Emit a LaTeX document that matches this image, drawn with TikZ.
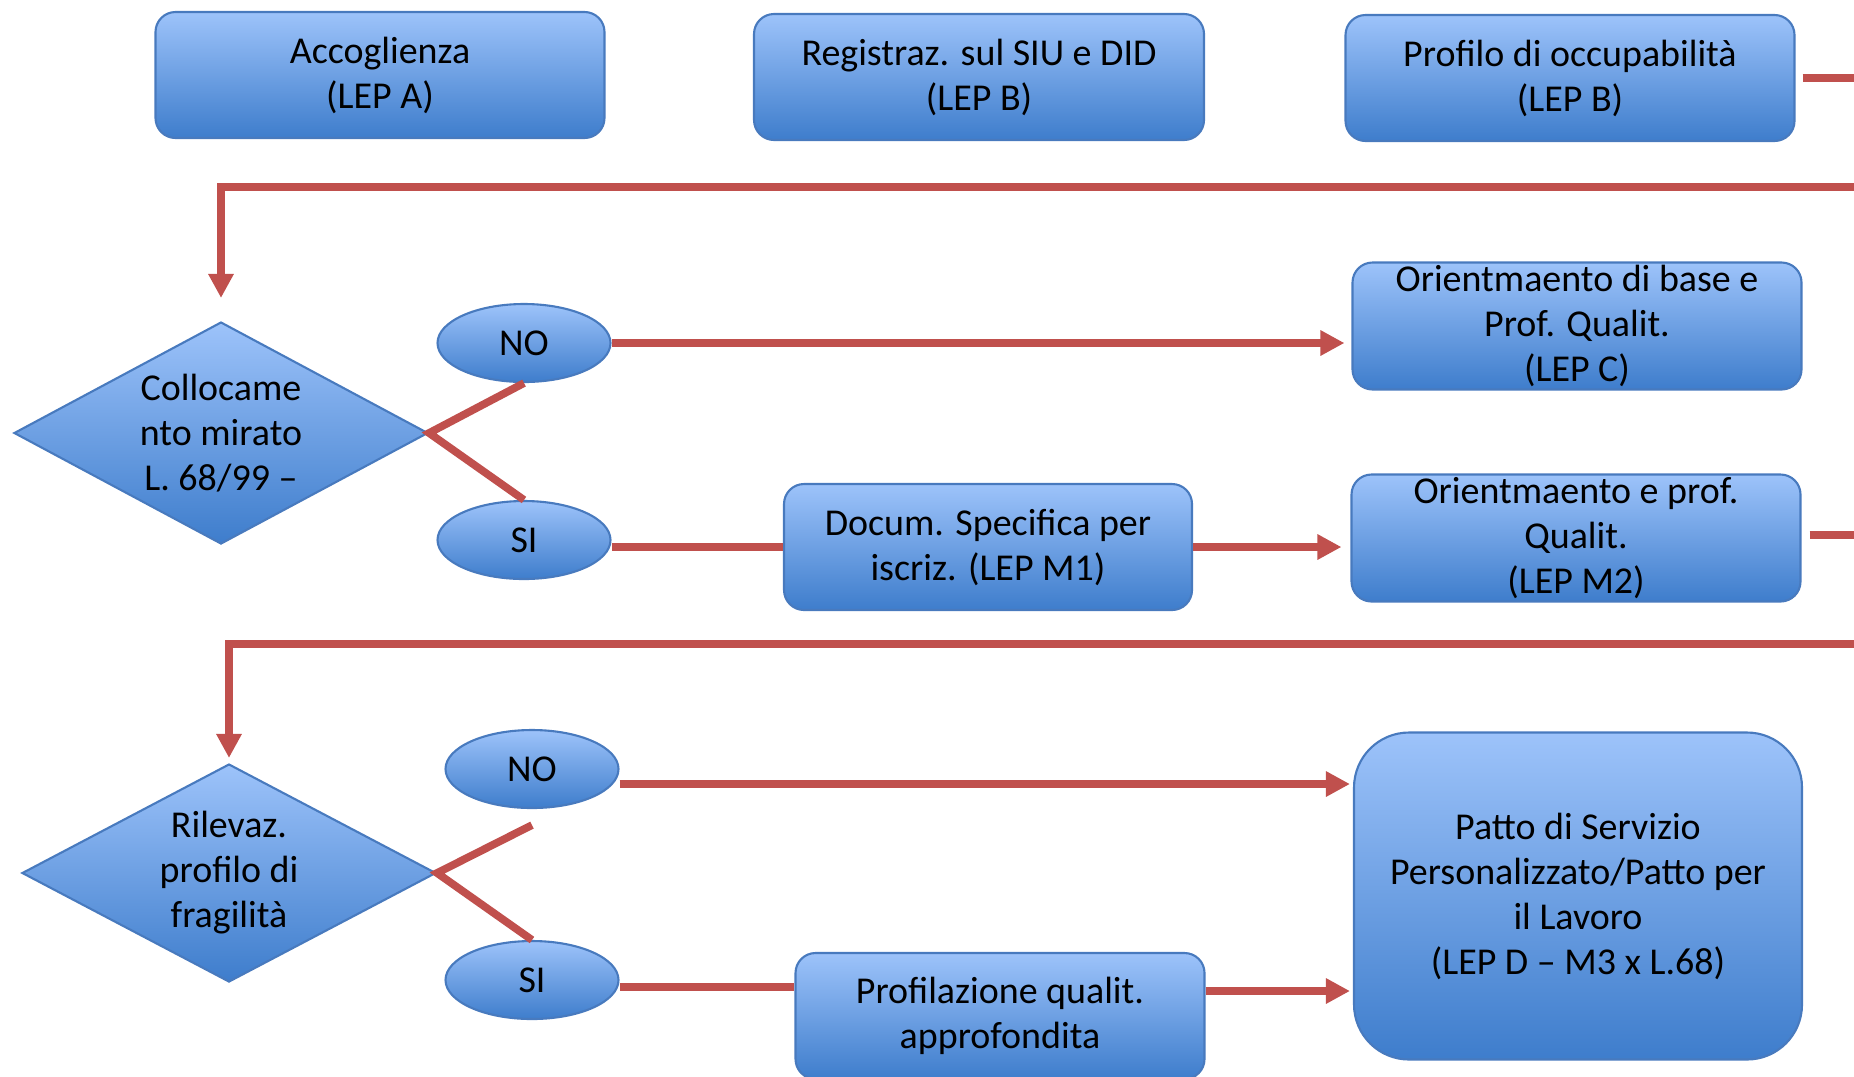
\documentclass[tikz,border=0pt]{standalone}
\usepackage{fontspec}
\setmainfont{Carlito}
\usetikzlibrary{shapes.geometric,arrows.meta}

\definecolor{boxtop}{RGB}{157,195,250}
\definecolor{boxbot}{RGB}{62,125,204}
\definecolor{boxline}{RGB}{72,122,190}
\definecolor{flowred}{RGB}{192,80,77}

\tikzset{
  lep/.style={draw=boxline, line width=0.6pt, top color=boxtop, bottom color=boxbot,
    rounded corners=0.2cm, align=center, inner sep=0pt,
    minimum width=4.49cm, minimum height=1.26cm, font=\fontsize{10.8}{12.8}\selectfont},
  choice/.style={lep, shape=diamond, sharp corners, aspect=1.86,
    minimum width=4.14cm, minimum height=2.22cm},
  answer/.style={lep, shape=ellipse, sharp corners, minimum width=1.73cm, minimum height=0.78cm},
  flow/.style={draw=flowred, line width=2.2pt},
  flowarrow/.style={flow, -{Triangle[length=0.24cm,width=0.24cm]}}
}

\begin{document}
\begin{tikzpicture}
\useasboundingbox (0,0) rectangle (18.54,-10.76);
% prima riga
\node[lep] (accog) at (3.80,-0.75) {Accoglienza\\(LEP A)};
\node[lep, minimum width=4.50cm] (regis) at (9.79,-0.77) {Registraz. sul SIU e DID\\(LEP B)};
\node[lep] (profilo) at (15.70,-0.78) {Profilo di occupabilità\\(LEP B)};
\coordinate (outA) at (18.54,-0.78);
\draw[flow, shorten <=0.07cm] (profilo.east) -- (outA);

% collocamento mirato
\coordinate (retA) at (18.54,-1.87);
\node[choice] (coll) at (2.21,-4.33) {Collocame\\nto mirato\\L. 68/99 –};
\draw[flowarrow, shorten >=0.23cm] (retA) -- (retA -| coll.north) -- (coll.north);
\node[answer] (no1) at (5.24,-3.43) {NO};
\node[answer] (si1) at (5.24,-5.40) {SI};
\draw[flow] (no1.south) -- (coll.east) -- (si1.north);
\node[lep, minimum height=1.27cm] (orbase) at (15.77,-3.26) {Orientmaento di base e\\Prof. Qualit.\\(LEP C)};
\draw[flowarrow, shorten >=0.07cm] (no1.east) -- (no1.east -| orbase.west);
\node[lep, minimum width=4.08cm] (docum) at (9.88,-5.47) {Docum. Specifica per\\iscriz. (LEP M1)};
\draw[flow] (docum.west -| si1.east) -- (docum.west);
\node[lep, minimum height=1.27cm] (ormir) at (15.76,-5.38) {Orientmaento e prof.\\Qualit.\\(LEP M2)};
\draw[flowarrow, shorten >=0.09cm] (docum.east) -- (docum.east -| ormir.west);
\coordinate (outB) at (18.54,-5.35);
\draw[flow, shorten <=0.08cm] (ormir.east |- outB) -- (outB);

% fragilita
\coordinate (retB) at (18.54,-6.44);
\node[choice, minimum height=2.18cm] (fragil) at (2.29,-8.73) {Rilevaz.\\profilo di\\fragilità};
\draw[flowarrow, shorten >=0.05cm] (retB) -- (retB -| fragil.north) -- (fragil.north);
\node[answer] (no2) at (5.32,-7.69) {NO};
\node[answer] (si2) at (5.32,-9.80) {SI};
\draw[flow] ([yshift=-0.16cm]no2.south) -- (fragil.east) -- (si2.north);
\node[lep, minimum width=4.48cm, minimum height=3.27cm, rounded corners=0.55cm] (patto) at (15.78,-8.96)
  {Patto di Servizio\\Personalizzato/Patto per\\il Lavoro\\(LEP D – M3 x L.68)};
\coordinate (no2out) at ([yshift=-0.15cm]no2.east);
\draw[flowarrow, shorten >=0.03cm] (no2out) -- (no2out -| patto.west);
\node[lep, minimum width=4.09cm] (profil) at (10.00,-10.16) {Profilazione qualit.\\approfondita};
\coordinate (si2out) at ([yshift=-0.07cm]si2.east);
\draw[flow] (si2out) -- (si2out -| profil.west);
\coordinate (profout) at ([yshift=0.25cm]profil.east);
\draw[flowarrow, shorten >=0.03cm] (profout) -- (profout -| patto.west);
\end{tikzpicture}
\end{document}
